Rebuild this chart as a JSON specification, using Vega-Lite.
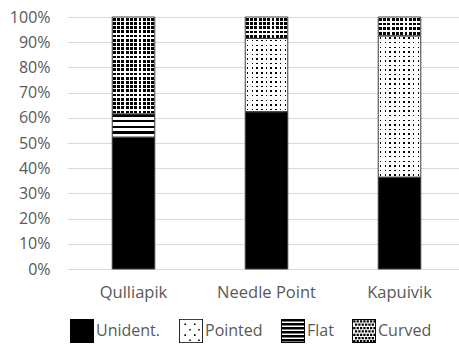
{
  "$schema": "https://vega.github.io/schema/vega-lite/v6.json",
  "width": 392,
  "height": 252,
  "autosize": "none",
  "padding": {"left": 67, "top": 17, "right": 0, "bottom": 76},
  "background": "#ffffff",
  "config": {"view": {"stroke": null}, "font": "Open Sans"},
  "data": {
    "values": [
      {"site": "Qulliapik", "type": "Unident.", "pct": 52.3},
      {"site": "Qulliapik", "type": "Pointed", "pct": 0},
      {"site": "Qulliapik", "type": "Flat", "pct": 9.2},
      {"site": "Qulliapik", "type": "Curved", "pct": 38.5},
      {"site": "Needle Point", "type": "Unident.", "pct": 62.4},
      {"site": "Needle Point", "type": "Pointed", "pct": 29.1},
      {"site": "Needle Point", "type": "Flat", "pct": 0},
      {"site": "Needle Point", "type": "Curved", "pct": 8.5},
      {"site": "Kapuivik", "type": "Unident.", "pct": 36.4},
      {"site": "Kapuivik", "type": "Pointed", "pct": 56.1},
      {"site": "Kapuivik", "type": "Flat", "pct": 0},
      {"site": "Kapuivik", "type": "Curved", "pct": 7.5}
    ]
  },
  "transform": [
    {"stack": "pct", "groupby": ["site"], "sort": [{"field": "type", "order": "descending"}], "offset": "normalize", "as": ["lo", "hi"]},
    {"filter": "datum.pct > 0"}
  ],
  "encoding": {
    "x": {
      "field": "site", "type": "nominal",
      "sort": ["Qulliapik", "Needle Point", "Kapuivik"],
      "scale": {"paddingInner": 0.68, "paddingOuter": 0.3137, "align": 0.542},
      "axis": {"title": null, "domain": false, "ticks": false, "labelAngle": 0, "labelPadding": 15, "labelFontSize": 16.5, "labelColor": "#595959"}
    },
    "y": {
      "field": "lo", "type": "quantitative",
      "scale": {"domain": [0, 1]},
      "axis": {"title": null, "values": [0, 0.1, 0.2, 0.3, 0.4, 0.5, 0.6, 0.7, 0.8, 0.9, 1], "format": ".0%", "domain": false, "ticks": false, "labelPadding": 17, "labelFontSize": 16, "labelColor": "#595959", "grid": true, "gridColor": "#d9d9d9", "gridWidth": 1}
    },
    "y2": {"field": "hi"}
  },
  "layer": [
    {
      "mark": {"type": "bar"},
      "encoding": {
        "fill": {
          "field": "type", "type": "nominal",
          "scale": {"domain": ["Unident.", "Pointed", "Flat", "Curved"], "range": ["#000000", "#000000", "#000000", "#000000"]},
          "legend": {
            "orient": "none", "legendX": 3, "legendY": 302, "direction": "horizontal", "columns": 4, "title": null,
            "symbolSize": 576, "symbolStrokeWidth": 0, "labelFontSize": 16, "labelColor": "#595959", "labelOffset": 2, "columnPadding": 18,
            "encode": {
              "symbols": {
                "update": {
                  "shape": [
                    {"test": "datum.value === 'Pointed'", "value": "M-1,-1H1V1H-1ZM-0.93,-0.93V0.93H0.93V-0.93ZM-0.55,-0.62h0.13v0.13h-0.13ZM0.25,-0.62h0.13v0.13h-0.13ZM-0.15,-0.17h0.13v0.13h-0.13ZM0.6,-0.17h0.13v0.13h-0.13ZM-0.55,0.28h0.13v0.13h-0.13ZM0.25,0.28h0.13v0.13h-0.13ZM-0.15,0.7h0.13v0.13h-0.13ZM0.6,0.7h0.13v0.13h-0.13Z"},
                    {"test": "datum.value === 'Flat'", "value": "M-1,-1H1V1H-1ZM-0.92,-0.92V0.92H0.92V-0.92ZM-1,-1H1V-0.8H-1ZM-1,-0.667H1V-0.467H-1ZM-1,-0.333H1V-0.133H-1ZM-1,0H1V0.2H-1ZM-1,0.333H1V0.533H-1ZM-1,0.667H1V0.867H-1Z"},
                    {"test": "datum.value === 'Curved'", "value": "M-1,-1H1V1H-1ZM-0.92,-0.92V0.92H0.92V-0.92ZM-0.9,-0.9h0.19v0.19h-0.19ZM-0.62,-0.9h0.19v0.19h-0.19ZM-0.34,-0.9h0.19v0.19h-0.19ZM-0.06,-0.9h0.19v0.19h-0.19ZM0.22,-0.9h0.19v0.19h-0.19ZM0.5,-0.9h0.19v0.19h-0.19ZM0.78,-0.9h0.19v0.19h-0.19ZM-0.76,-0.62h0.19v0.19h-0.19ZM-0.48,-0.62h0.19v0.19h-0.19ZM-0.2,-0.62h0.19v0.19h-0.19ZM0.08,-0.62h0.19v0.19h-0.19ZM0.36,-0.62h0.19v0.19h-0.19ZM0.64,-0.62h0.19v0.19h-0.19ZM-0.9,-0.34h0.19v0.19h-0.19ZM-0.62,-0.34h0.19v0.19h-0.19ZM-0.34,-0.34h0.19v0.19h-0.19ZM-0.06,-0.34h0.19v0.19h-0.19ZM0.22,-0.34h0.19v0.19h-0.19ZM0.5,-0.34h0.19v0.19h-0.19ZM0.78,-0.34h0.19v0.19h-0.19ZM-0.76,-0.06h0.19v0.19h-0.19ZM-0.48,-0.06h0.19v0.19h-0.19ZM-0.2,-0.06h0.19v0.19h-0.19ZM0.08,-0.06h0.19v0.19h-0.19ZM0.36,-0.06h0.19v0.19h-0.19ZM0.64,-0.06h0.19v0.19h-0.19ZM-0.9,0.22h0.19v0.19h-0.19ZM-0.62,0.22h0.19v0.19h-0.19ZM-0.34,0.22h0.19v0.19h-0.19ZM-0.06,0.22h0.19v0.19h-0.19ZM0.22,0.22h0.19v0.19h-0.19ZM0.5,0.22h0.19v0.19h-0.19ZM0.78,0.22h0.19v0.19h-0.19ZM-0.76,0.5h0.19v0.19h-0.19ZM-0.48,0.5h0.19v0.19h-0.19ZM-0.2,0.5h0.19v0.19h-0.19ZM0.08,0.5h0.19v0.19h-0.19ZM0.36,0.5h0.19v0.19h-0.19ZM0.64,0.5h0.19v0.19h-0.19ZM-0.9,0.74h0.19v0.19h-0.19ZM-0.62,0.74h0.19v0.19h-0.19ZM-0.34,0.74h0.19v0.19h-0.19ZM-0.06,0.74h0.19v0.19h-0.19ZM0.22,0.74h0.19v0.19h-0.19ZM0.5,0.74h0.19v0.19h-0.19ZM0.74,0.74h0.19v0.19h-0.19Z"},
                    {"value": "square"}
                  ]
                }
              }
            }
          }
        }
      }
    },
    {
      "transform": [{"filter": "datum.type === 'Flat'"}],
      "mark": {
        "type": "bar",
        "fill": {"gradient": "linear", "x1": 0, "y1": 0, "x2": 0, "y2": 1, "stops": [
          {"offset": 0, "color": "#fff0"}, {"offset": 0.11, "color": "#fff0"}, {"offset": 0.11, "color": "#fff"}, {"offset": 0.25, "color": "#fff"},
          {"offset": 0.25, "color": "#fff0"}, {"offset": 0.36, "color": "#fff0"}, {"offset": 0.36, "color": "#fff"}, {"offset": 0.5, "color": "#fff"},
          {"offset": 0.5, "color": "#fff0"}, {"offset": 0.61, "color": "#fff0"}, {"offset": 0.61, "color": "#fff"}, {"offset": 0.75, "color": "#fff"},
          {"offset": 0.75, "color": "#fff0"}, {"offset": 0.86, "color": "#fff0"}, {"offset": 0.86, "color": "#fff"}, {"offset": 1, "color": "#fff"}
        ]}
      }
    },
    {
      "transform": [{"filter": "datum.type === 'Pointed' || datum.type === 'Curved'"}],
      "mark": {"type": "bar"},
      "encoding": {
        "fill": {
          "condition": [
            {"test": "datum.site === 'Qulliapik' && datum.type === 'Curved'", "value": {"gradient": "linear", "x1": 0, "y1": 0, "x2": 0, "y2": 1, "stops": [
              {"offset": 0, "color": "#fff"},
              {"offset": 0.0073, "color": "#fff"}, {"offset": 0.0073, "color": "#fff0"}, {"offset": 0.0362, "color": "#fff0"}, {"offset": 0.0362, "color": "#fff"},
              {"offset": 0.0508, "color": "#fff"}, {"offset": 0.0508, "color": "#fff0"}, {"offset": 0.0797, "color": "#fff0"}, {"offset": 0.0797, "color": "#fff"},
              {"offset": 0.0943, "color": "#fff"}, {"offset": 0.0943, "color": "#fff0"}, {"offset": 0.1232, "color": "#fff0"}, {"offset": 0.1232, "color": "#fff"},
              {"offset": 0.1378, "color": "#fff"}, {"offset": 0.1378, "color": "#fff0"}, {"offset": 0.1667, "color": "#fff0"}, {"offset": 0.1667, "color": "#fff"},
              {"offset": 0.1812, "color": "#fff"}, {"offset": 0.1812, "color": "#fff0"}, {"offset": 0.2101, "color": "#fff0"}, {"offset": 0.2101, "color": "#fff"},
              {"offset": 0.2247, "color": "#fff"}, {"offset": 0.2247, "color": "#fff0"}, {"offset": 0.2536, "color": "#fff0"}, {"offset": 0.2536, "color": "#fff"},
              {"offset": 0.2682, "color": "#fff"}, {"offset": 0.2682, "color": "#fff0"}, {"offset": 0.2971, "color": "#fff0"}, {"offset": 0.2971, "color": "#fff"},
              {"offset": 0.3117, "color": "#fff"}, {"offset": 0.3117, "color": "#fff0"}, {"offset": 0.3406, "color": "#fff0"}, {"offset": 0.3406, "color": "#fff"},
              {"offset": 0.3551, "color": "#fff"}, {"offset": 0.3551, "color": "#fff0"}, {"offset": 0.384, "color": "#fff0"}, {"offset": 0.384, "color": "#fff"},
              {"offset": 0.3986, "color": "#fff"}, {"offset": 0.3986, "color": "#fff0"}, {"offset": 0.4275, "color": "#fff0"}, {"offset": 0.4275, "color": "#fff"},
              {"offset": 0.4421, "color": "#fff"}, {"offset": 0.4421, "color": "#fff0"}, {"offset": 0.471, "color": "#fff0"}, {"offset": 0.471, "color": "#fff"},
              {"offset": 0.4856, "color": "#fff"}, {"offset": 0.4856, "color": "#fff0"}, {"offset": 0.5145, "color": "#fff0"}, {"offset": 0.5145, "color": "#fff"},
              {"offset": 0.529, "color": "#fff"}, {"offset": 0.529, "color": "#fff0"}, {"offset": 0.5579, "color": "#fff0"}, {"offset": 0.5579, "color": "#fff"},
              {"offset": 0.5725, "color": "#fff"}, {"offset": 0.5725, "color": "#fff0"}, {"offset": 0.6014, "color": "#fff0"}, {"offset": 0.6014, "color": "#fff"},
              {"offset": 0.616, "color": "#fff"}, {"offset": 0.616, "color": "#fff0"}, {"offset": 0.6449, "color": "#fff0"}, {"offset": 0.6449, "color": "#fff"},
              {"offset": 0.6595, "color": "#fff"}, {"offset": 0.6595, "color": "#fff0"}, {"offset": 0.6884, "color": "#fff0"}, {"offset": 0.6884, "color": "#fff"},
              {"offset": 0.703, "color": "#fff"}, {"offset": 0.703, "color": "#fff0"}, {"offset": 0.7319, "color": "#fff0"}, {"offset": 0.7319, "color": "#fff"},
              {"offset": 0.7464, "color": "#fff"}, {"offset": 0.7464, "color": "#fff0"}, {"offset": 0.7753, "color": "#fff0"}, {"offset": 0.7753, "color": "#fff"},
              {"offset": 0.7899, "color": "#fff"}, {"offset": 0.7899, "color": "#fff0"}, {"offset": 0.8188, "color": "#fff0"}, {"offset": 0.8188, "color": "#fff"},
              {"offset": 0.8334, "color": "#fff"}, {"offset": 0.8334, "color": "#fff0"}, {"offset": 0.8623, "color": "#fff0"}, {"offset": 0.8623, "color": "#fff"},
              {"offset": 0.8769, "color": "#fff"}, {"offset": 0.8769, "color": "#fff0"}, {"offset": 0.9058, "color": "#fff0"}, {"offset": 0.9058, "color": "#fff"},
              {"offset": 0.9203, "color": "#fff"}, {"offset": 0.9203, "color": "#fff0"}, {"offset": 0.9492, "color": "#fff0"}, {"offset": 0.9492, "color": "#fff"},
              {"offset": 0.9638, "color": "#fff"}, {"offset": 0.9638, "color": "#fff0"}, {"offset": 0.9927, "color": "#fff0"}, {"offset": 0.9927, "color": "#fff"},
              {"offset": 1, "color": "#fff"}
            ]}},
            {"test": "datum.site === 'Needle Point' && datum.type === 'Curved'", "value": {"gradient": "linear", "x1": 0, "y1": 0, "x2": 0, "y2": 1, "stops": [
              {"offset": 0, "color": "#fff"},
              {"offset": 0.0345, "color": "#fff"}, {"offset": 0.0345, "color": "#fff0"}, {"offset": 0.1655, "color": "#fff0"}, {"offset": 0.1655, "color": "#fff"},
              {"offset": 0.2345, "color": "#fff"}, {"offset": 0.2345, "color": "#fff0"}, {"offset": 0.3655, "color": "#fff0"}, {"offset": 0.3655, "color": "#fff"},
              {"offset": 0.4345, "color": "#fff"}, {"offset": 0.4345, "color": "#fff0"}, {"offset": 0.5655, "color": "#fff0"}, {"offset": 0.5655, "color": "#fff"},
              {"offset": 0.6345, "color": "#fff"}, {"offset": 0.6345, "color": "#fff0"}, {"offset": 0.7655, "color": "#fff0"}, {"offset": 0.7655, "color": "#fff"},
              {"offset": 0.8345, "color": "#fff"}, {"offset": 0.8345, "color": "#fff0"}, {"offset": 0.9655, "color": "#fff0"}, {"offset": 0.9655, "color": "#fff"},
              {"offset": 1, "color": "#fff"}
            ]}},
            {"test": "datum.site === 'Kapuivik' && datum.type === 'Curved'", "value": {"gradient": "linear", "x1": 0, "y1": 0, "x2": 0, "y2": 1, "stops": [
              {"offset": 0, "color": "#fff"},
              {"offset": 0.051, "color": "#fff"}, {"offset": 0.051, "color": "#fff0"}, {"offset": 0.199, "color": "#fff0"}, {"offset": 0.199, "color": "#fff"},
              {"offset": 0.301, "color": "#fff"}, {"offset": 0.301, "color": "#fff0"}, {"offset": 0.449, "color": "#fff0"}, {"offset": 0.449, "color": "#fff"},
              {"offset": 0.551, "color": "#fff"}, {"offset": 0.551, "color": "#fff0"}, {"offset": 0.699, "color": "#fff0"}, {"offset": 0.699, "color": "#fff"},
              {"offset": 0.801, "color": "#fff"}, {"offset": 0.801, "color": "#fff0"}, {"offset": 0.949, "color": "#fff0"}, {"offset": 0.949, "color": "#fff"},
              {"offset": 1, "color": "#fff"}
            ]}},
            {"test": "datum.site === 'Needle Point' && datum.type === 'Pointed'", "value": {"gradient": "linear", "x1": 0, "y1": 0, "x2": 0, "y2": 1, "stops": [
              {"offset": 0, "color": "#fff"},
              {"offset": 0.021, "color": "#fff"}, {"offset": 0.021, "color": "#fff0"}, {"offset": 0.0415, "color": "#fff0"}, {"offset": 0.0415, "color": "#fff"},
              {"offset": 0.0835, "color": "#fff"}, {"offset": 0.0835, "color": "#fff0"}, {"offset": 0.104, "color": "#fff0"}, {"offset": 0.104, "color": "#fff"},
              {"offset": 0.146, "color": "#fff"}, {"offset": 0.146, "color": "#fff0"}, {"offset": 0.1665, "color": "#fff0"}, {"offset": 0.1665, "color": "#fff"},
              {"offset": 0.2085, "color": "#fff"}, {"offset": 0.2085, "color": "#fff0"}, {"offset": 0.229, "color": "#fff0"}, {"offset": 0.229, "color": "#fff"},
              {"offset": 0.271, "color": "#fff"}, {"offset": 0.271, "color": "#fff0"}, {"offset": 0.2915, "color": "#fff0"}, {"offset": 0.2915, "color": "#fff"},
              {"offset": 0.3335, "color": "#fff"}, {"offset": 0.3335, "color": "#fff0"}, {"offset": 0.354, "color": "#fff0"}, {"offset": 0.354, "color": "#fff"},
              {"offset": 0.396, "color": "#fff"}, {"offset": 0.396, "color": "#fff0"}, {"offset": 0.4165, "color": "#fff0"}, {"offset": 0.4165, "color": "#fff"},
              {"offset": 0.4585, "color": "#fff"}, {"offset": 0.4585, "color": "#fff0"}, {"offset": 0.479, "color": "#fff0"}, {"offset": 0.479, "color": "#fff"},
              {"offset": 0.521, "color": "#fff"}, {"offset": 0.521, "color": "#fff0"}, {"offset": 0.5415, "color": "#fff0"}, {"offset": 0.5415, "color": "#fff"},
              {"offset": 0.5835, "color": "#fff"}, {"offset": 0.5835, "color": "#fff0"}, {"offset": 0.604, "color": "#fff0"}, {"offset": 0.604, "color": "#fff"},
              {"offset": 0.646, "color": "#fff"}, {"offset": 0.646, "color": "#fff0"}, {"offset": 0.6665, "color": "#fff0"}, {"offset": 0.6665, "color": "#fff"},
              {"offset": 0.7085, "color": "#fff"}, {"offset": 0.7085, "color": "#fff0"}, {"offset": 0.729, "color": "#fff0"}, {"offset": 0.729, "color": "#fff"},
              {"offset": 0.771, "color": "#fff"}, {"offset": 0.771, "color": "#fff0"}, {"offset": 0.7915, "color": "#fff0"}, {"offset": 0.7915, "color": "#fff"},
              {"offset": 0.8335, "color": "#fff"}, {"offset": 0.8335, "color": "#fff0"}, {"offset": 0.854, "color": "#fff0"}, {"offset": 0.854, "color": "#fff"},
              {"offset": 0.896, "color": "#fff"}, {"offset": 0.896, "color": "#fff0"}, {"offset": 0.9165, "color": "#fff0"}, {"offset": 0.9165, "color": "#fff"},
              {"offset": 0.9585, "color": "#fff"}, {"offset": 0.9585, "color": "#fff0"}, {"offset": 0.979, "color": "#fff0"}, {"offset": 0.979, "color": "#fff"},
              {"offset": 1, "color": "#fff"}
            ]}}
          ],
          "value": {"gradient": "linear", "x1": 0, "y1": 0, "x2": 0, "y2": 1, "stops": [
            {"offset": 0, "color": "#fff"},
            {"offset": 0.0108, "color": "#fff"}, {"offset": 0.0108, "color": "#fff0"}, {"offset": 0.0214, "color": "#fff0"}, {"offset": 0.0214, "color": "#fff"},
            {"offset": 0.0431, "color": "#fff"}, {"offset": 0.0431, "color": "#fff0"}, {"offset": 0.0537, "color": "#fff0"}, {"offset": 0.0537, "color": "#fff"},
            {"offset": 0.0753, "color": "#fff"}, {"offset": 0.0753, "color": "#fff0"}, {"offset": 0.0859, "color": "#fff0"}, {"offset": 0.0859, "color": "#fff"},
            {"offset": 0.1076, "color": "#fff"}, {"offset": 0.1076, "color": "#fff0"}, {"offset": 0.1182, "color": "#fff0"}, {"offset": 0.1182, "color": "#fff"},
            {"offset": 0.1398, "color": "#fff"}, {"offset": 0.1398, "color": "#fff0"}, {"offset": 0.1504, "color": "#fff0"}, {"offset": 0.1504, "color": "#fff"},
            {"offset": 0.1721, "color": "#fff"}, {"offset": 0.1721, "color": "#fff0"}, {"offset": 0.1827, "color": "#fff0"}, {"offset": 0.1827, "color": "#fff"},
            {"offset": 0.2043, "color": "#fff"}, {"offset": 0.2043, "color": "#fff0"}, {"offset": 0.2149, "color": "#fff0"}, {"offset": 0.2149, "color": "#fff"},
            {"offset": 0.2366, "color": "#fff"}, {"offset": 0.2366, "color": "#fff0"}, {"offset": 0.2472, "color": "#fff0"}, {"offset": 0.2472, "color": "#fff"},
            {"offset": 0.2689, "color": "#fff"}, {"offset": 0.2689, "color": "#fff0"}, {"offset": 0.2795, "color": "#fff0"}, {"offset": 0.2795, "color": "#fff"},
            {"offset": 0.3011, "color": "#fff"}, {"offset": 0.3011, "color": "#fff0"}, {"offset": 0.3117, "color": "#fff0"}, {"offset": 0.3117, "color": "#fff"},
            {"offset": 0.3334, "color": "#fff"}, {"offset": 0.3334, "color": "#fff0"}, {"offset": 0.344, "color": "#fff0"}, {"offset": 0.344, "color": "#fff"},
            {"offset": 0.3656, "color": "#fff"}, {"offset": 0.3656, "color": "#fff0"}, {"offset": 0.3762, "color": "#fff0"}, {"offset": 0.3762, "color": "#fff"},
            {"offset": 0.3979, "color": "#fff"}, {"offset": 0.3979, "color": "#fff0"}, {"offset": 0.4085, "color": "#fff0"}, {"offset": 0.4085, "color": "#fff"},
            {"offset": 0.4302, "color": "#fff"}, {"offset": 0.4302, "color": "#fff0"}, {"offset": 0.4408, "color": "#fff0"}, {"offset": 0.4408, "color": "#fff"},
            {"offset": 0.4624, "color": "#fff"}, {"offset": 0.4624, "color": "#fff0"}, {"offset": 0.473, "color": "#fff0"}, {"offset": 0.473, "color": "#fff"},
            {"offset": 0.4947, "color": "#fff"}, {"offset": 0.4947, "color": "#fff0"}, {"offset": 0.5053, "color": "#fff0"}, {"offset": 0.5053, "color": "#fff"},
            {"offset": 0.5269, "color": "#fff"}, {"offset": 0.5269, "color": "#fff0"}, {"offset": 0.5375, "color": "#fff0"}, {"offset": 0.5375, "color": "#fff"},
            {"offset": 0.5592, "color": "#fff"}, {"offset": 0.5592, "color": "#fff0"}, {"offset": 0.5698, "color": "#fff0"}, {"offset": 0.5698, "color": "#fff"},
            {"offset": 0.5914, "color": "#fff"}, {"offset": 0.5914, "color": "#fff0"}, {"offset": 0.602, "color": "#fff0"}, {"offset": 0.602, "color": "#fff"},
            {"offset": 0.6237, "color": "#fff"}, {"offset": 0.6237, "color": "#fff0"}, {"offset": 0.6343, "color": "#fff0"}, {"offset": 0.6343, "color": "#fff"},
            {"offset": 0.656, "color": "#fff"}, {"offset": 0.656, "color": "#fff0"}, {"offset": 0.6666, "color": "#fff0"}, {"offset": 0.6666, "color": "#fff"},
            {"offset": 0.6882, "color": "#fff"}, {"offset": 0.6882, "color": "#fff0"}, {"offset": 0.6988, "color": "#fff0"}, {"offset": 0.6988, "color": "#fff"},
            {"offset": 0.7205, "color": "#fff"}, {"offset": 0.7205, "color": "#fff0"}, {"offset": 0.7311, "color": "#fff0"}, {"offset": 0.7311, "color": "#fff"},
            {"offset": 0.7527, "color": "#fff"}, {"offset": 0.7527, "color": "#fff0"}, {"offset": 0.7633, "color": "#fff0"}, {"offset": 0.7633, "color": "#fff"},
            {"offset": 0.785, "color": "#fff"}, {"offset": 0.785, "color": "#fff0"}, {"offset": 0.7956, "color": "#fff0"}, {"offset": 0.7956, "color": "#fff"},
            {"offset": 0.8173, "color": "#fff"}, {"offset": 0.8173, "color": "#fff0"}, {"offset": 0.8279, "color": "#fff0"}, {"offset": 0.8279, "color": "#fff"},
            {"offset": 0.8495, "color": "#fff"}, {"offset": 0.8495, "color": "#fff0"}, {"offset": 0.8601, "color": "#fff0"}, {"offset": 0.8601, "color": "#fff"},
            {"offset": 0.8818, "color": "#fff"}, {"offset": 0.8818, "color": "#fff0"}, {"offset": 0.8924, "color": "#fff0"}, {"offset": 0.8924, "color": "#fff"},
            {"offset": 0.914, "color": "#fff"}, {"offset": 0.914, "color": "#fff0"}, {"offset": 0.9246, "color": "#fff0"}, {"offset": 0.9246, "color": "#fff"},
            {"offset": 0.9463, "color": "#fff"}, {"offset": 0.9463, "color": "#fff0"}, {"offset": 0.9569, "color": "#fff0"}, {"offset": 0.9569, "color": "#fff"},
            {"offset": 0.9785, "color": "#fff"}, {"offset": 0.9785, "color": "#fff0"}, {"offset": 0.9891, "color": "#fff0"}, {"offset": 0.9891, "color": "#fff"},
            {"offset": 1, "color": "#fff"}
          ]}
        }
      }
    },
    {
      "transform": [{"filter": "datum.type === 'Pointed' || datum.type === 'Curved'"}],
      "mark": {"type": "bar"},
      "encoding": {
        "fill": {
          "condition": {"test": "datum.type === 'Curved'", "value": {"gradient": "linear", "x1": 0, "y1": 0, "x2": 1, "y2": 0, "stops": [
            {"offset": 0, "color": "#fff"},
            {"offset": 0.0175, "color": "#fff"}, {"offset": 0.0175, "color": "#fff0"}, {"offset": 0.0825, "color": "#fff0"}, {"offset": 0.0825, "color": "#fff"},
            {"offset": 0.1175, "color": "#fff"}, {"offset": 0.1175, "color": "#fff0"}, {"offset": 0.1825, "color": "#fff0"}, {"offset": 0.1825, "color": "#fff"},
            {"offset": 0.2175, "color": "#fff"}, {"offset": 0.2175, "color": "#fff0"}, {"offset": 0.2825, "color": "#fff0"}, {"offset": 0.2825, "color": "#fff"},
            {"offset": 0.3175, "color": "#fff"}, {"offset": 0.3175, "color": "#fff0"}, {"offset": 0.3825, "color": "#fff0"}, {"offset": 0.3825, "color": "#fff"},
            {"offset": 0.4175, "color": "#fff"}, {"offset": 0.4175, "color": "#fff0"}, {"offset": 0.4825, "color": "#fff0"}, {"offset": 0.4825, "color": "#fff"},
            {"offset": 0.5175, "color": "#fff"}, {"offset": 0.5175, "color": "#fff0"}, {"offset": 0.5825, "color": "#fff0"}, {"offset": 0.5825, "color": "#fff"},
            {"offset": 0.6175, "color": "#fff"}, {"offset": 0.6175, "color": "#fff0"}, {"offset": 0.6825, "color": "#fff0"}, {"offset": 0.6825, "color": "#fff"},
            {"offset": 0.7175, "color": "#fff"}, {"offset": 0.7175, "color": "#fff0"}, {"offset": 0.7825, "color": "#fff0"}, {"offset": 0.7825, "color": "#fff"},
            {"offset": 0.8175, "color": "#fff"}, {"offset": 0.8175, "color": "#fff0"}, {"offset": 0.8825, "color": "#fff0"}, {"offset": 0.8825, "color": "#fff"},
            {"offset": 0.9175, "color": "#fff"}, {"offset": 0.9175, "color": "#fff0"}, {"offset": 0.9825, "color": "#fff0"}, {"offset": 0.9825, "color": "#fff"},
            {"offset": 1, "color": "#fff"}
          ]}},
          "value": {"gradient": "linear", "x1": 0, "y1": 0, "x2": 1, "y2": 0, "stops": [
            {"offset": 0, "color": "#fff"},
            {"offset": 0.038, "color": "#fff"}, {"offset": 0.038, "color": "#fff0"}, {"offset": 0.0732, "color": "#fff0"}, {"offset": 0.0732, "color": "#fff"},
            {"offset": 0.1491, "color": "#fff"}, {"offset": 0.1491, "color": "#fff0"}, {"offset": 0.1843, "color": "#fff0"}, {"offset": 0.1843, "color": "#fff"},
            {"offset": 0.2602, "color": "#fff"}, {"offset": 0.2602, "color": "#fff0"}, {"offset": 0.2954, "color": "#fff0"}, {"offset": 0.2954, "color": "#fff"},
            {"offset": 0.3713, "color": "#fff"}, {"offset": 0.3713, "color": "#fff0"}, {"offset": 0.4065, "color": "#fff0"}, {"offset": 0.4065, "color": "#fff"},
            {"offset": 0.4824, "color": "#fff"}, {"offset": 0.4824, "color": "#fff0"}, {"offset": 0.5176, "color": "#fff0"}, {"offset": 0.5176, "color": "#fff"},
            {"offset": 0.5936, "color": "#fff"}, {"offset": 0.5936, "color": "#fff0"}, {"offset": 0.6288, "color": "#fff0"}, {"offset": 0.6288, "color": "#fff"},
            {"offset": 0.7047, "color": "#fff"}, {"offset": 0.7047, "color": "#fff0"}, {"offset": 0.7399, "color": "#fff0"}, {"offset": 0.7399, "color": "#fff"},
            {"offset": 0.8158, "color": "#fff"}, {"offset": 0.8158, "color": "#fff0"}, {"offset": 0.851, "color": "#fff0"}, {"offset": 0.851, "color": "#fff"},
            {"offset": 0.9269, "color": "#fff"}, {"offset": 0.9269, "color": "#fff0"}, {"offset": 0.9621, "color": "#fff0"}, {"offset": 0.9621, "color": "#fff"},
            {"offset": 1, "color": "#fff"}
          ]}
        }
      }
    },
    {
      "mark": {"type": "bar", "fillOpacity": 0, "stroke": "#404040", "strokeWidth": 1}
    }
  ]
}
